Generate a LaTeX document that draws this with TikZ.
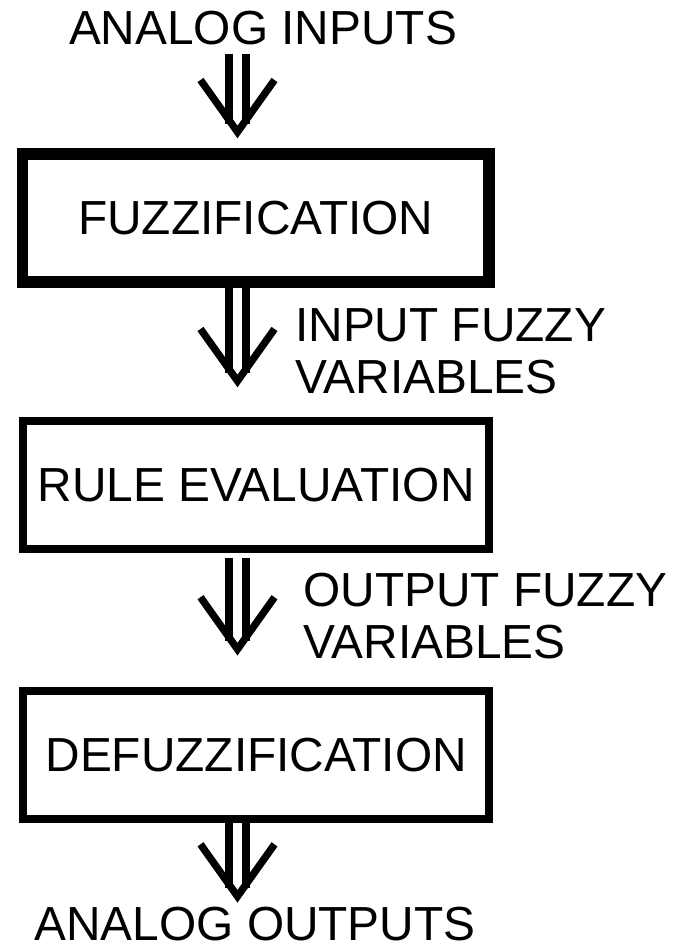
\documentclass[tikz,border=0pt]{standalone}
\usepackage{fontspec}
\setmainfont{Liberation Sans}
\usetikzlibrary{calc}

\newcommand{\fuzzyarrow}[2]{%
  \draw[rail] ($(#1)+(-8.5,0)$) -- ($(#2)+(-8.5,-8)$);
  \draw[rail] ($(#1)+(8.5,0)$) -- ($(#2)+(8.5,-8)$);
  \draw[rail, line join=miter] ($(#2)+(-37,-52)$) -- (#2) -- ($(#2)+(37,-52)$);
}

\begin{document}
\begin{tikzpicture}[x=0.025cm, y=-0.025cm,
  stage/.style={draw, line width=5.7pt, inner sep=0pt, outer sep=0pt,
                minimum width=11.65cm, minimum height=3.2cm,
                font=\fontsize{34}{37}\selectfont},
  signal/.style={inner sep=0pt, font=\fontsize{34}{37}\selectfont},
  rail/.style={line width=5.2pt}
]
  \useasboundingbox (0,0) rectangle (673,951);
  \coordinate (axis) at (237.5,0);
  \node[signal, anchor=base] (in) at (263,45) {ANALOG INPUTS};
  \node[stage, line width=8.2pt] (fuzz) at (255.75,218) {FUZZIFICATION};
  \node[stage] (rules) at (256.25,485) {RULE EVALUATION};
  \node[stage] (defuzz) at (256.25,754.75) {DEFUZZIFICATION};
  \node[signal, anchor=base] (out) at (255,940) {ANALOG OUTPUTS};
  \node[signal, anchor=north west, align=left] (ifv) at (295,308) {INPUT FUZZY\\VARIABLES};
  \node[signal, anchor=north west, align=left] (ofv) at (303,573) {OUTPUT FUZZY\\VARIABLES};

  \coordinate (s1) at ($(in.south -| axis)+(0,8)$);
  \coordinate (t1) at ($(fuzz.north -| axis)+(0,-22)$);
  \coordinate (s2) at ($(fuzz.south -| axis)+(0,1)$);
  \coordinate (t2) at ($(rules.north -| axis)+(0,-40)$);
  \coordinate (s3) at ($(rules.south -| axis)+(0,9)$);
  \coordinate (t3) at ($(defuzz.north -| axis)+(0,-41.5)$);
  \coordinate (s4) at ($(defuzz.south -| axis)+(0,3)$);
  \coordinate (t4) at ($(out.north -| axis)+(0,-10)$);
  \fuzzyarrow{s1}{t1}
  \fuzzyarrow{s2}{t2}
  \fuzzyarrow{s3}{t3}
  \fuzzyarrow{s4}{t4}
\end{tikzpicture}
\end{document}
